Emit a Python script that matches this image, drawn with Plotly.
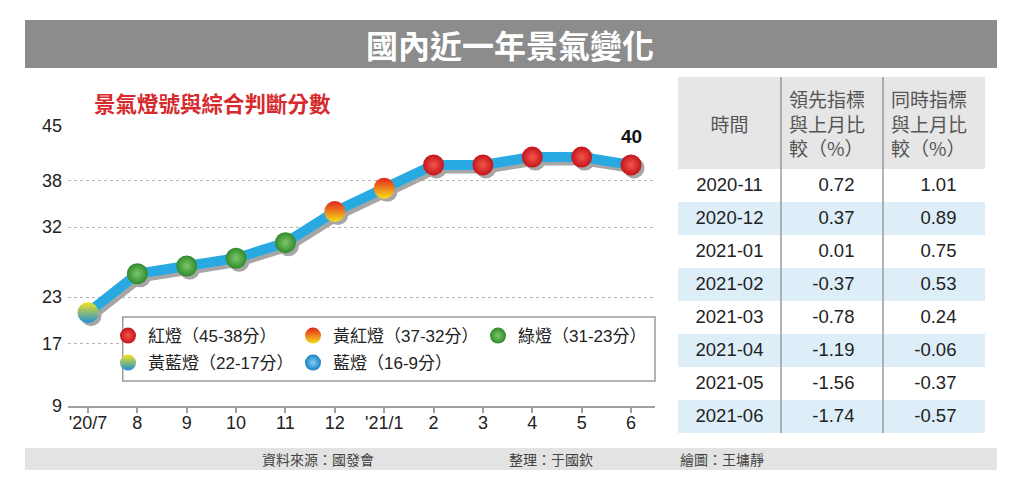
import plotly.graph_objects as go

# 景氣對策信號：綜合判斷分數（2020/7 ~ 2021/6）
months = ["'20/7", "8", "9", "10", "11", "12", "'21/1", "2", "3", "4", "5", "6"]
scores = [21, 26, 27, 28, 30, 34, 37, 40, 40, 41, 41, 40]
lights = ["黃藍燈", "綠燈", "綠燈", "綠燈", "綠燈", "黃紅燈", "黃紅燈",
          "紅燈", "紅燈", "紅燈", "紅燈", "紅燈"]
y_ticks = [9, 17, 23, 32, 38, 45]

light_names = ["紅燈", "黃紅燈", "綠燈", "黃藍燈", "藍燈"]
light_ranges = ["45-38分", "37-32分", "31-23分", "22-17分", "16-9分"]

# 右側表格
table_dates = ["2020-11", "2020-12", "2021-01", "2021-02",
               "2021-03", "2021-04", "2021-05", "2021-06"]
leading_chg = [0.72, 0.37, 0.01, -0.37, -0.78, -1.19, -1.56, -1.74]
coincident_chg = [1.01, 0.89, 0.75, 0.53, 0.24, -0.06, -0.37, -0.57]

W, H = 1024, 490
NUM_FONT = "Liberation Sans, Arial, Noto Sans CJK TC"
CJK_FONT = "Noto Sans CJK TC, Liberation Sans"


def px_x(p):
    return p / W


def px_y(p):
    return 1 - p / H


# marker style of each light: (edge/top color, gradient type, gradient color)
light_style = {
    "紅燈": ("#c3141b", "radial", "#f5564a"),
    "黃紅燈": ("#e3231f", "vertical", "#f6e01a"),
    "綠燈": ("#2f8a2c", "radial", "#7cc86a"),
    "黃藍燈": ("#f5e31d", "vertical", "#1b8fd8"),
    "藍燈": ("#1c7fc4", "radial", "#82d3f3"),
}
legend_of = {"紅燈": "legend", "黃紅燈": "legend", "綠燈": "legend",
             "黃藍燈": "legend2", "藍燈": "legend2"}

x_range = [-0.405, 11.486]
table_top = 77

fig = go.Figure()

# drop shadow of the line, drawn on a slightly shifted hidden axis pair
fig.add_trace(go.Scatter(
    x=months, y=scores, xaxis="x", yaxis="y",
    mode="lines+markers",
    line=dict(color="#222222", width=11),
    marker=dict(size=21, color="#222222"),
    opacity=0.4, hoverinfo="skip", showlegend=False,
))

# main blue line
fig.add_trace(go.Scatter(
    x=months, y=scores, xaxis="x2", yaxis="y2",
    mode="lines", line=dict(color="#29a9e1", width=10),
    hoverinfo="skip", showlegend=False,
))

for name, rng in zip(light_names, light_ranges):
    xs = [m for m, l in zip(months, lights) if l == name]
    ys = [s for s, l in zip(scores, lights) if l == name]
    if not xs:
        xs, ys = [None], [None]
    col, gtype, gcol = light_style[name]
    fig.add_trace(go.Scatter(
        x=xs, y=ys, xaxis="x2", yaxis="y2",
        mode="markers", name=f"{name}（{rng}）",
        legend=legend_of[name],
        marker=dict(size=21, color=col,
                    gradient=dict(type=gtype, color=gcol),
                    line=dict(width=0)),
        hovertemplate="%{x}: %{y}<extra>" + name + "</extra>",
    ))

# table
fmt = lambda v: f"{v:.2f}" + "\u00a0" * 4
row_fill = ["#ffffff" if i % 2 == 0 else "#ddeef9" for i in range(len(table_dates))]
fig.add_trace(go.Table(
    domain=dict(x=[px_x(678), px_x(985)], y=[px_y(434), px_y(table_top)]),
    columnwidth=[103, 102, 102],
    header=dict(
        values=["\u00a0<br>時間", "領先指標<br>與上月比<br>較（%）", "同時指標<br>與上月比<br>較（%）"],
        align=["center", "left", "left"],
        fill_color="#e6e6e6",
        line=dict(color="rgba(0,0,0,0)", width=0),
        font=dict(family=CJK_FONT, size=19, color="#555555"),
        height=85,
    ),
    cells=dict(
        values=[table_dates, [fmt(v) for v in leading_chg], [fmt(v) for v in coincident_chg]],
        align=["center", "right", "right"],
        fill_color=[row_fill, row_fill, row_fill],
        line=dict(color="rgba(0,0,0,0)", width=0),
        font=dict(family=NUM_FONT, size=18.5, color="#222222"),
        height=33,
    ),
))

shapes = [
    # title bar
    dict(type="rect", xref="paper", yref="paper", layer="below",
         x0=px_x(25), x1=px_x(997), y0=px_y(68), y1=px_y(20),
         fillcolor="#8c8c8c", line=dict(width=0)),
    # footer bar
    dict(type="rect", xref="paper", yref="paper", layer="below",
         x0=px_x(25), x1=px_x(997), y0=px_y(470), y1=px_y(448),
         fillcolor="#e3e3e3", line=dict(width=0)),
    # legend box
    dict(type="rect", xref="paper", yref="paper", layer="above",
         x0=px_x(122.7), x1=px_x(655), y0=px_y(381), y1=px_y(317),
         fillcolor="white", line=dict(color="#9a9a9a", width=1.5)),
]
for sx in (781, 883):
    shapes.append(dict(type="line", xref="paper", yref="paper", layer="above",
                       x0=px_x(sx), x1=px_x(sx), y0=px_y(433), y1=px_y(table_top),
                       line=dict(color="#9a9a9a", width=1.5)))

annotations = [
    dict(text="<b>國內近一年景氣變化</b>", xref="paper", yref="paper",
         x=px_x(510), y=px_y(44), xanchor="center", yanchor="middle", showarrow=False,
         font=dict(family=CJK_FONT, size=32, color="white")),
    dict(text="<b>景氣燈號與綜合判斷分數</b>", xref="paper", yref="paper",
         x=px_x(92), y=px_y(103), xanchor="left", yanchor="middle", showarrow=False,
         font=dict(family=CJK_FONT, size=21.5, color="#d62a2d")),
    dict(text=f"<b>{scores[-1]}</b>", xref="x2", yref="y2",
         x=len(months) - 1, y=scores[-1], yshift=28, showarrow=False,
         font=dict(family=NUM_FONT, size=19, color="#111111")),
    dict(text="資料來源：國發會", xref="paper", yref="paper",
         x=px_x(260), y=px_y(459), xanchor="left", yanchor="middle", showarrow=False,
         font=dict(family=CJK_FONT, size=14, color="#444444")),
    dict(text="整理：于國欽", xref="paper", yref="paper",
         x=px_x(507), y=px_y(459), xanchor="left", yanchor="middle", showarrow=False,
         font=dict(family=CJK_FONT, size=14, color="#444444")),
    dict(text="繪圖：王墉靜", xref="paper", yref="paper",
         x=px_x(678), y=px_y(459), xanchor="left", yanchor="middle", showarrow=False,
         font=dict(family=CJK_FONT, size=14, color="#444444")),
]

legend_common = dict(orientation="h", xanchor="left", yanchor="middle",
                     bgcolor="rgba(0,0,0,0)", borderwidth=0, entrywidth=140,
                     font=dict(family=NUM_FONT, size=17, color="#222222"))

fig.update_layout(
    width=W, height=H,
    margin=dict(l=0, r=0, t=0, b=0, autoexpand=False),
    paper_bgcolor="white", plot_bgcolor="rgba(0,0,0,0)",
    showlegend=True,
    legend=dict(x=px_x(108), y=px_y(336), **legend_common),
    legend2=dict(x=px_x(108), y=px_y(363), **legend_common),
    xaxis=dict(domain=[px_x(68 + 3), px_x(655 + 3)], anchor="y",
               type="category", categoryarray=months, range=x_range, visible=False),
    yaxis=dict(domain=[(H - 406 - 3) / H, (H - 126 - 3) / H], anchor="x",
               range=[9, 45], visible=False),
    xaxis2=dict(domain=[px_x(68), px_x(655)], anchor="y2",
                type="category", categoryarray=months, range=x_range,
                showline=True, linecolor="#a0a0a0", linewidth=2,
                ticks="outside", ticklen=5, tickcolor="#a0a0a0", tickwidth=1.5,
                ticklabelstandoff=-6,
                showgrid=False, zeroline=False,
                tickfont=dict(family=NUM_FONT, size=18, color="#222222")),
    yaxis2=dict(domain=[(H - 406) / H, (H - 126) / H], anchor="x2",
                range=[9, 45], tickvals=y_ticks,
                showgrid=True, gridcolor="#b4b4b4", griddash="3px,3px", gridwidth=1,
                zeroline=False, showline=False, ticks="", ticklabelstandoff=5,
                tickfont=dict(family=NUM_FONT, size=18, color="#222222")),
    shapes=shapes,
    annotations=annotations,
)

fig.write_html("out.html", config={"displayModeBar": False},
               post_script="document.body.style.margin='0';")
